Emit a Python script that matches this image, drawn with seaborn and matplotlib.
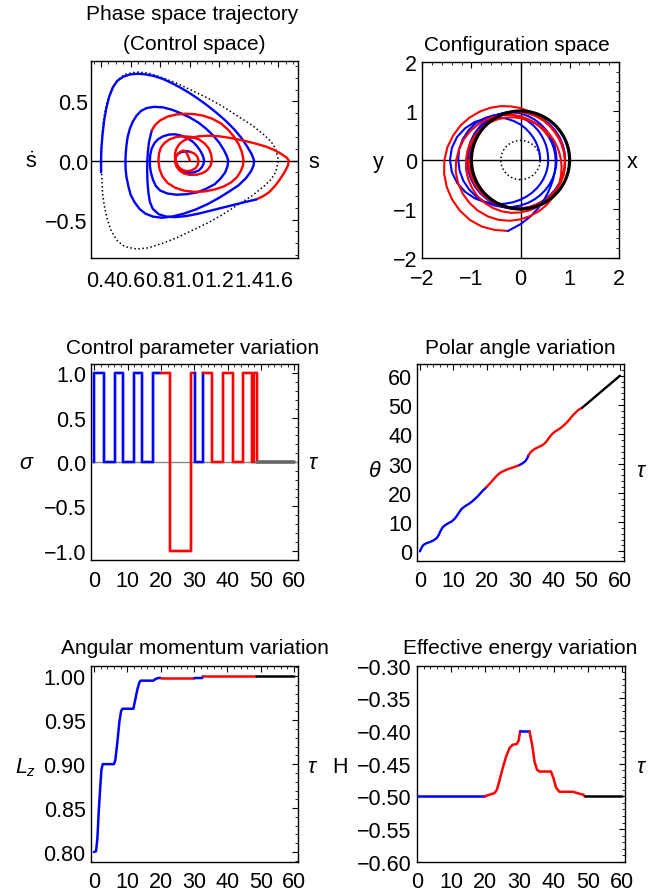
import numpy as np
import matplotlib
matplotlib.use("Agg")
import matplotlib.pyplot as plt
from matplotlib.ticker import FixedLocator, MultipleLocator, FuncFormatter
from matplotlib.patches import Circle
import seaborn as sns

sns.set_theme(style="white")
plt.rcParams["font.family"] = ["Liberation Sans", "DejaVu Sans"]
plt.rcParams["mathtext.fontset"] = "custom"
plt.rcParams["mathtext.rm"] = "Liberation Sans"
plt.rcParams["mathtext.it"] = "Liberation Sans:italic"

BLUE = "#0000ff"
RED = "#ff0000"

# ---------------- data: phase space (s, s_dot) ----------------
sep_s = [0.40, 0.41, 0.42, 0.44, 0.47, 0.51, 0.56, 0.64, 0.72, 0.82, 0.92, 1.02, 1.12,
         1.22, 1.32, 1.42, 1.50, 1.55, 1.58, 1.60]
sep_v = [0.00, 0.27, 0.37, 0.49, 0.60, 0.68, 0.73, 0.75, 0.74, 0.70, 0.65, 0.59, 0.53,
         0.46, 0.38, 0.30, 0.22, 0.16, 0.10, 0.00]

ph_blue1 = [(0.40, -0.10), (0.40, 0.00), (0.402, 0.10), (0.41, 0.22), (0.42, 0.33),
            (0.435, 0.44), (0.455, 0.54), (0.48, 0.62), (0.51, 0.675), (0.55, 0.71),
            (0.60, 0.73), (0.65, 0.735), (0.70, 0.73), (0.76, 0.715), (0.82, 0.69),
            (0.88, 0.655), (0.94, 0.615), (1.00, 0.57), (1.06, 0.52), (1.12, 0.465),
            (1.18, 0.405), (1.24, 0.34), (1.30, 0.265), (1.35, 0.19), (1.39, 0.115),
            (1.42, 0.05), (1.435, 0.00), (1.432, -0.04), (1.415, -0.09), (1.38, -0.15),
            (1.33, -0.21), (1.27, -0.26), (1.20, -0.315), (1.12, -0.37), (1.04, -0.415),
            (0.96, -0.45), (0.88, -0.475), (0.81, -0.485), (0.75, -0.475), (0.70, -0.45),
            (0.66, -0.41), (0.625, -0.35), (0.60, -0.29), (0.585, -0.22), (0.572, -0.14),
            (0.566, -0.07), (0.565, 0.00),
            (0.567, 0.06), (0.572, 0.13), (0.58, 0.20), (0.595, 0.27), (0.615, 0.33),
            (0.64, 0.38), (0.67, 0.42), (0.71, 0.445), (0.76, 0.455), (0.82, 0.45),
            (0.88, 0.43), (0.94, 0.40), (1.00, 0.365), (1.06, 0.32), (1.11, 0.27),
            (1.16, 0.21), (1.20, 0.15), (1.23, 0.09), (1.25, 0.04), (1.26, 0.00),
            (1.255, -0.05), (1.24, -0.10), (1.21, -0.15), (1.17, -0.20), (1.11, -0.24),
            (1.05, -0.27), (0.98, -0.285), (0.91, -0.29), (0.85, -0.28), (0.80, -0.255),
            (0.77, -0.215), (0.75, -0.16), (0.737, -0.10), (0.731, -0.05), (0.73, 0.00),
            (0.733, 0.05), (0.742, 0.10), (0.76, 0.145), (0.785, 0.18), (0.82, 0.205),
            (0.86, 0.22), (0.90, 0.222), (0.94, 0.212), (0.98, 0.19), (1.02, 0.16),
            (1.05, 0.12), (1.075, 0.075), (1.09, 0.035), (1.097, 0.00), (1.093, -0.03),
            (1.08, -0.06), (1.06, -0.085), (1.03, -0.10), (0.99, -0.105), (0.955, -0.095),
            (0.93, -0.075), (0.912, -0.045), (0.903, -0.02), (0.90, 0.00),
            (0.905, 0.03), (0.92, 0.055), (0.945, 0.072), (0.975, 0.078), (1.00, 0.075)]
ph_red1 = [(1.00, 0.075), (1.03, 0.06), (1.05, 0.035), (1.06, 0.00), (1.055, -0.035),
           (1.04, -0.065), (1.01, -0.085), (0.98, -0.09), (0.95, -0.08), (0.925, -0.055),
           (0.91, -0.02), (0.90, 0.02), (0.90, 0.06), (0.91, 0.10), (0.93, 0.14),
           (0.96, 0.17), (1.00, 0.19), (1.06, 0.205), (1.13, 0.21), (1.20, 0.205),
           (1.28, 0.19), (1.36, 0.17), (1.44, 0.145), (1.51, 0.12), (1.57, 0.09),
           (1.62, 0.055), (1.655, 0.025), (1.67, 0.00), (1.665, -0.04), (1.645, -0.09),
           (1.615, -0.15), (1.58, -0.21), (1.54, -0.265), (1.50, -0.30), (1.45, -0.33)]
ph_blue2 = [(1.45, -0.33), (1.38, -0.35), (1.30, -0.375), (1.22, -0.40), (1.14, -0.425),
            (1.06, -0.45), (0.98, -0.47), (0.90, -0.48), (0.84, -0.475), (0.79, -0.455),
            (0.75, -0.41), (0.73, -0.35), (0.72, -0.27), (0.714, -0.18), (0.712, -0.09),
            (0.713, 0.00), (0.717, 0.08), (0.725, 0.16), (0.743, 0.255)]
ph_red2 = [(0.743, 0.255), (0.765, 0.30), (0.80, 0.34), (0.85, 0.372), (0.91, 0.39),
           (0.97, 0.396), (1.03, 0.393), (1.09, 0.38), (1.15, 0.355), (1.21, 0.315),
           (1.26, 0.26), (1.30, 0.20), (1.33, 0.14), (1.35, 0.08), (1.36, 0.03),
           (1.363, 0.00), (1.36, -0.04), (1.345, -0.09), (1.32, -0.14), (1.28, -0.185),
           (1.23, -0.22), (1.17, -0.245), (1.10, -0.262), (1.03, -0.266), (0.96, -0.255),
           (0.90, -0.23), (0.85, -0.19), (0.815, -0.135), (0.795, -0.07), (0.788, 0.00),
           (0.792, 0.06), (0.805, 0.11), (0.83, 0.15), (0.865, 0.18), (0.91, 0.20),
           (0.96, 0.205), (1.01, 0.20), (1.06, 0.18), (1.10, 0.145), (1.13, 0.10),
           (1.145, 0.05), (1.15, 0.00), (1.14, -0.045), (1.12, -0.08), (1.09, -0.105),
           (1.05, -0.12), (1.00, -0.122), (0.96, -0.11), (0.93, -0.085), (0.91, -0.05),
           (0.90, -0.01), (0.905, 0.03), (0.92, 0.06), (0.945, 0.08), (0.96, 0.085),
           (0.975, 0.07), (0.99, 0.035), (1.00, 0.00)]

# ---------------- data: configuration space (radius every 10 deg of polar angle) ----------------
cfg_step_deg = 10
cfg_blue1_start = 0
cfg_blue1_r = [0.400, 0.403, 0.412, 0.428, 0.450, 0.483, 0.525, 0.578, 0.645, 0.725, 0.81,
               0.905, 1.00, 1.10, 1.21, 1.30, 1.375, 1.42, 1.436,
               1.420, 1.372, 1.301, 1.216, 1.125, 1.036, 0.952, 0.876, 0.81, 0.753, 0.705,
               0.665, 0.633, 0.607, 0.588, 0.575, 0.567,
               0.564, 0.568, 0.58, 0.60, 0.625, 0.66, 0.705, 0.755, 0.815, 0.875, 0.935,
               1.0, 1.06, 1.12, 1.18, 1.22, 1.25, 1.27, 1.268,
               1.259, 1.239, 1.207, 1.167, 1.121, 1.071, 1.022, 0.974, 0.929, 0.888, 0.852,
               0.82, 0.793, 0.772, 0.755, 0.743, 0.736,
               0.734, 0.737, 0.745, 0.76, 0.78, 0.805, 0.835, 0.87, 0.91, 0.95, 0.99, 1.02,
               1.045, 1.062, 1.075, 1.082, 1.086, 1.088, 1.089,
               1.087, 1.0825, 1.075, 1.065, 1.052, 1.038, 1.023, 1.008, 0.992, 0.977, 0.963,
               0.95, 0.938, 0.929, 0.921, 0.915, 0.912,
               0.911, 0.912, 0.915, 0.921, 0.929, 0.938, 0.95, 0.963, 0.977, 0.992, 1.006,
               1.02, 1.032, 1.043, 1.052, 1.058, 1.062, 1.064, 1.065]
cfg_red1_start = 1260
cfg_red1_r = [1.065, 1.064, 1.06, 1.055, 1.047, 1.037, 1.026, 1.013, 1.0, 0.99, 0.977, 0.966,
              0.956, 0.948, 0.942, 0.938,
              0.93, 0.92, 0.91, 0.90, 0.895, 0.895, 0.90, 0.915, 0.94, 0.97, 1.01, 1.06, 1.11,
              1.17, 1.23, 1.29, 1.35, 1.41, 1.46, 1.51, 1.55, 1.58, 1.60, 1.61, 1.61, 1.60,
              1.57, 1.52, 1.47]
cfg_blue2_start = 1700
cfg_blue2_r = [1.47, 1.31, 1.17, 1.05, 0.95, 0.87, 0.81, 0.77, 0.74, 0.725, 0.717,
               0.715, 0.72, 0.73, 0.743]
cfg_red2_start = 1840
cfg_red2_r = [0.743, 0.76, 0.785, 0.815, 0.85, 0.89, 0.935, 0.98, 1.03, 1.08, 1.13, 1.18,
              1.23, 1.27, 1.31, 1.34, 1.355, 1.363, 1.36, 1.35, 1.33, 1.30, 1.26, 1.21, 1.16,
              1.11, 1.06, 1.01, 0.96, 0.92, 0.88, 0.85, 0.825, 0.805, 0.795, 0.789, 0.788,
              0.79, 0.797, 0.81, 0.83, 0.855, 0.885, 0.92, 0.955, 0.99, 1.02, 1.05, 1.075,
              1.095, 1.11, 1.125, 1.135, 1.14, 1.145, 1.14, 1.13, 1.115, 1.095, 1.07, 1.045,
              1.02, 0.995, 0.97, 0.95, 0.935, 0.92, 0.91, 0.903, 0.90, 0.90, 0.903, 0.91,
              0.92, 0.93, 0.945, 0.96, 0.975, 0.99, 1.0, 1.01, 1.02, 1.025, 1.03, 1.032,
              1.033, 1.032, 1.03, 1.025, 1.02, 1.012, 1.006, 1.002, 1.0, 1.0]
final_orbit_radius = 1.0
start_radius = 0.4

# ---------------- data: control parameter sigma(tau) ----------------
sig_blue1_t = [0, 0, 2.8, 2.8, 6.1, 6.1, 8.5, 8.5, 11.8, 11.8, 14.3, 14.3, 17.6, 17.6, 20.0]
sig_blue1_v = [0, 1, 1, 0, 0, 1, 1, 0, 0, 1, 1, 0, 0, 1, 1]
sig_red1_t = [20.0, 22.6, 22.6, 29.0, 29.0, 30.3]
sig_red1_v = [1, 1, -1, -1, 1, 1]
sig_blue2_t = [30.3, 30.3, 32.7, 32.7]
sig_blue2_v = [1, 0, 0, 1]
sig_red2_t = [32.7, 35.3, 35.3, 38.7, 38.7, 41.5, 41.5, 44.6, 44.6, 47.3, 47.3, 48.0, 48.0, 48.9, 48.9]
sig_red2_v = [1, 1, 0, 0, 1, 1, 0, 0, 1, 1, 0, 0, 1, 1, 0]
sig_end_t = [48.9, 60.0]
sig_end_v = [0, 0]

# ---------------- data: polar angle theta(tau) ----------------
th_blue1_t = [0, 0.3, 0.7, 1.2, 2, 3, 4, 5, 5.6, 6.2, 6.8, 7.5, 8.5, 9.5, 10.3, 11, 11.8,
              12.5, 13.5, 14.5, 15.5, 16.5, 17.5, 18.5, 19.9]
th_blue1_v = [0, 0.8, 1.7, 2.3, 2.8, 3.2, 3.7, 4.5, 5.5, 7.0, 8.2, 8.9, 9.6, 10.2, 11.0,
              12.0, 13.4, 14.5, 15.4, 16.1, 16.9, 17.9, 19.0, 20.3, 21.9]
th_red1_t = [19.9, 21, 22, 23, 24, 25, 26, 27, 28, 29, 29.9]
th_red1_v = [21.9, 23.2, 24.5, 25.8, 26.8, 27.4, 27.9, 28.3, 28.7, 29.1, 29.5]
th_blue2_t = [29.9, 30.8, 31.6, 32.2, 32.6]
th_blue2_v = [29.5, 30.1, 30.8, 31.8, 32.9]
th_red2_t = [32.6, 33.3, 34.3, 35.5, 36.8, 37.8, 38.6, 39.5, 40.5, 41.5, 42.5, 43.5, 44.5,
             45.5, 46.5, 47.5, 48.6]
th_red2_v = [32.9, 34.0, 34.9, 35.6, 36.3, 37.3, 38.6, 39.9, 40.9, 41.6, 42.4, 43.4, 44.6,
             46.0, 47.2, 48.3, 49.0]
th_end_t = [48.6, 60.0]
th_end_v = [49.0, 60.0]

# ---------------- data: angular momentum Lz(tau) ----------------
lz_blue1_t = [0, 0.6, 1.0, 1.4, 1.8, 2.2, 2.6, 6.0, 6.4, 7.0, 7.6, 8.1, 8.5, 11.8, 12.3,
              13.0, 13.6, 14.0, 17.8, 18.5, 19.3, 20.0]
lz_blue1_v = [0.800, 0.801, 0.815, 0.845, 0.870, 0.893, 0.900, 0.900, 0.905, 0.925, 0.948,
              0.960, 0.963, 0.963, 0.972, 0.985, 0.993, 0.995, 0.995, 0.997, 0.998, 0.998]
lz_red1_t = [20.0, 30.1]
lz_red1_v = [0.998, 0.998]
lz_blue2_t = [30.1, 32.4, 32.7]
lz_blue2_v = [0.998, 0.998, 1.000]
lz_red2_t = [32.7, 48.6]
lz_red2_v = [1.000, 1.000]
lz_end_t = [48.6, 60.0]
lz_end_v = [1.000, 1.000]

# ---------------- data: effective energy H(tau) ----------------
h_blue1_t = [0, 19.8]
h_blue1_v = [-0.500, -0.500]
h_red1_t = [19.8, 21.2, 22.7, 23.4, 24.1, 25.1, 26.1, 27.1, 28.0, 29.2, 29.8, 30.2]
h_red1_v = [-0.500, -0.4975, -0.495, -0.490, -0.477, -0.457, -0.439, -0.426, -0.421,
            -0.420, -0.414, -0.400]
h_blue2_t = [30.2, 32.9]
h_blue2_v = [-0.400, -0.400]
h_red2_t = [32.9, 33.7, 34.4, 35.1, 35.8, 39.2, 39.9, 40.7, 41.7, 45.6, 47.5, 48.7, 49.0]
h_red2_v = [-0.400, -0.421, -0.447, -0.459, -0.462, -0.462, -0.472, -0.487, -0.493, -0.493,
            -0.496, -0.4975, -0.500]
h_end_t = [49.0, 60.0]
h_end_v = [-0.500, -0.500]

# ---------------- drawing helpers ----------------
W, H = 667, 895
fig = plt.figure(figsize=(W / 100, H / 100), dpi=100)
TICK_FS = 15.5


def axes_px(left, top, right, bottom):
    return fig.add_axes([left / W, 1 - bottom / H, (right - left) / W, (bottom - top) / H])


def seg(ax, x, y, color, lw=1.6, ls="-", alpha=1.0, z=3):
    sns.lineplot(x=np.asarray(x, float), y=np.asarray(y, float), ax=ax, color=color,
                 linewidth=lw, linestyle=ls, alpha=alpha, sort=False, estimator=None,
                 legend=False, zorder=z)


def pair_seg(ax, pts, color, lw=1.7):
    seg(ax, [p[0] for p in pts], [p[1] for p in pts], color, lw=lw)


def polar_seg(ax, start_deg, radii, color, lw=1.5):
    th = np.deg2rad(start_deg + cfg_step_deg * np.arange(len(radii)))
    r = np.asarray(radii, float)
    seg(ax, r * np.cos(th), r * np.sin(th), color, lw=lw)


def fmt(spec):
    return FuncFormatter(lambda v, p: (spec % v).replace("-", "\u2212"))


def style(ax, xlim, ylim, xmaj, xmin, ymaj, ymin, xfmt, yfmt, xpad=7.0, ypad=3.6):
    ax.set_xlim(xlim)
    ax.set_ylim(ylim)
    ax.xaxis.set_major_locator(FixedLocator(xmaj))
    ax.yaxis.set_major_locator(FixedLocator(ymaj))
    ax.xaxis.set_minor_locator(MultipleLocator(xmin))
    ax.yaxis.set_minor_locator(MultipleLocator(ymin))
    ax.xaxis.set_major_formatter(fmt(xfmt))
    ax.yaxis.set_major_formatter(fmt(yfmt))
    ax.tick_params(which="major", direction="in", length=4.5, width=0.8, top=True,
                   right=True, labelsize=TICK_FS, colors="black")
    ax.tick_params(which="minor", direction="in", length=2.3, width=0.6, top=True,
                   right=True, colors="black")
    ax.tick_params(axis="x", which="major", pad=xpad)
    ax.tick_params(axis="y", which="major", pad=ypad)
    for sp in ax.spines.values():
        sp.set_visible(True)
        sp.set_color("black")
        sp.set_linewidth(1.0)
    ax.set_xlabel("")
    ax.set_ylabel("")
    ax.grid(False)
    ax.set_facecolor("white")


def ftext(x, y, s, size=15, ha="center", va="baseline", **kw):
    fig.text(x / W, 1 - y / H, s, fontsize=size, ha=ha, va=va, color="black", **kw)


# ---------------- panel 1: phase space ----------------
ax1 = axes_px(90.7, 62, 297.7, 259)
ax1.axhline(0, color="black", lw=1.0, zorder=2)
seg(ax1, sep_s + sep_s[::-1], sep_v + [-v for v in sep_v[::-1]], "black", lw=1.1, ls=":")
pair_seg(ax1, ph_blue1, BLUE)
pair_seg(ax1, ph_red1, RED)
pair_seg(ax1, ph_blue2, BLUE)
pair_seg(ax1, ph_red2, RED)
style(ax1, (0.33, 1.73), (-0.826, 0.843), [0.4, 0.6, 0.8, 1.0, 1.2, 1.4, 1.6], 0.05,
      [-0.5, 0.0, 0.5], 0.1, "%.1f", "%.1f", xpad=8.5, ypad=2.0)

# ---------------- panel 2: configuration space ----------------
ax2 = axes_px(422.3, 63, 618.7, 259)
ax2.axhline(0, color="black", lw=1.0, zorder=2)
ax2.axvline(0, color="black", lw=1.0, zorder=2)
ax2.add_patch(Circle((0, 0), start_radius, fill=False, ls=":", lw=1.1, color="black", zorder=2))
polar_seg(ax2, cfg_blue1_start, cfg_blue1_r, BLUE)
polar_seg(ax2, cfg_red1_start, cfg_red1_r, RED)
polar_seg(ax2, cfg_blue2_start, cfg_blue2_r, BLUE)
polar_seg(ax2, cfg_red2_start, cfg_red2_r, RED)
ax2.add_patch(Circle((0, 0), final_orbit_radius, fill=False, lw=2.3, color="black", zorder=5))
style(ax2, (-2, 2), (-2, 2), [-2, -1, 0, 1, 2], 0.2, [-2, -1, 0, 1, 2], 0.2, "%d", "%d")

# ---------------- panel 3: control parameter ----------------
ax3 = axes_px(91, 365, 297.7, 561)
ax3.axhline(0, color="#888888", lw=1.0, zorder=1)
for tt, vv, cc in [(sig_blue1_t, sig_blue1_v, BLUE), (sig_red1_t, sig_red1_v, RED),
                   (sig_blue2_t, sig_blue2_v, BLUE), (sig_red2_t, sig_red2_v, RED)]:
    seg(ax3, tt, vv, cc, lw=2.9, alpha=0.3)
    seg(ax3, tt, vv, cc, lw=1.5)
seg(ax3, sig_end_t, sig_end_v, "#666666", lw=2.6)
style(ax3, (-1.0, 61.0), (-1.105, 1.105), [0, 10, 20, 30, 40, 50, 60], 2,
      [-1.0, -0.5, 0.0, 0.5, 1.0], 0.1, "%d", "%.1f")

# ---------------- panel 4: polar angle ----------------
ax4 = axes_px(417.3, 365, 624.3, 561.7)
seg(ax4, th_blue1_t, th_blue1_v, BLUE, lw=1.7)
seg(ax4, th_red1_t, th_red1_v, RED, lw=1.7)
seg(ax4, th_blue2_t, th_blue2_v, BLUE, lw=1.7)
seg(ax4, th_red2_t, th_red2_v, RED, lw=1.7)
seg(ax4, th_end_t, th_end_v, "black", lw=1.7)
style(ax4, (-0.8, 61.3), (-3.2, 64.0), [0, 10, 20, 30, 40, 50, 60], 2,
      [0, 10, 20, 30, 40, 50, 60], 2, "%d", "%d")

# ---------------- panel 5: angular momentum ----------------
ax5 = axes_px(90.7, 666.7, 297.7, 862.7)
seg(ax5, lz_blue1_t, lz_blue1_v, BLUE, lw=1.8)
seg(ax5, lz_red1_t, lz_red1_v, RED, lw=1.8)
seg(ax5, lz_blue2_t, lz_blue2_v, BLUE, lw=1.8)
seg(ax5, lz_red2_t, lz_red2_v, RED, lw=1.8)
seg(ax5, lz_end_t, lz_end_v, "black", lw=1.8)
style(ax5, (-1.0, 61.1), (0.789, 1.012), [0, 10, 20, 30, 40, 50, 60], 2,
      [0.80, 0.85, 0.90, 0.95, 1.00], 0.01, "%d", "%.2f")

# ---------------- panel 6: effective energy ----------------
ax6 = axes_px(416.7, 666.7, 625, 862.7)
seg(ax6, h_blue1_t, h_blue1_v, BLUE, lw=1.8)
seg(ax6, h_red1_t, h_red1_v, RED, lw=1.8)
seg(ax6, h_blue2_t, h_blue2_v, BLUE, lw=1.8)
seg(ax6, h_red2_t, h_red2_v, RED, lw=1.8)
seg(ax6, h_end_t, h_end_v, "black", lw=1.8)
style(ax6, (0.0, 60.8), (-0.60, -0.30), [0, 10, 20, 30, 40, 50, 60], 2,
      [-0.60, -0.55, -0.50, -0.45, -0.40, -0.35, -0.30], 0.01, "%d", "%.2f")

# ---------------- titles ----------------
ftext(192, 20.5, "Phase space trajectory")
ftext(194, 50, "(Control space)")
ftext(517, 51, "Configuration space")
ftext(193, 354, "Control parameter variation")
ftext(520, 354, "Polar angle variation")
ftext(195, 654, "Angular momentum variation")
ftext(520, 654, "Effective energy variation")

# ---------------- axis labels ----------------
LFS = 15.5
ftext(31, 168, r"$\dot{\mathrm{s}}$", size=LFS)
ftext(314, 168, "s", size=LFS)
ftext(378, 168, "y", size=LFS)
ftext(632, 168, "x", size=LFS)
ftext(26, 469, "σ", size=LFS, style="italic")
ftext(312, 469, "τ", size=LFS, style="italic")
ftext(375, 477, "θ", size=LFS, style="italic")
ftext(640, 477, "τ", size=LFS, style="italic")
ftext(26, 773, r"$L_z$", size=LFS)
ftext(311, 773, "τ", size=LFS, style="italic")
ftext(340, 773, "H", size=LFS)
ftext(640, 773, "τ", size=LFS, style="italic")

fig.savefig("out.png", dpi=100, facecolor="white")
